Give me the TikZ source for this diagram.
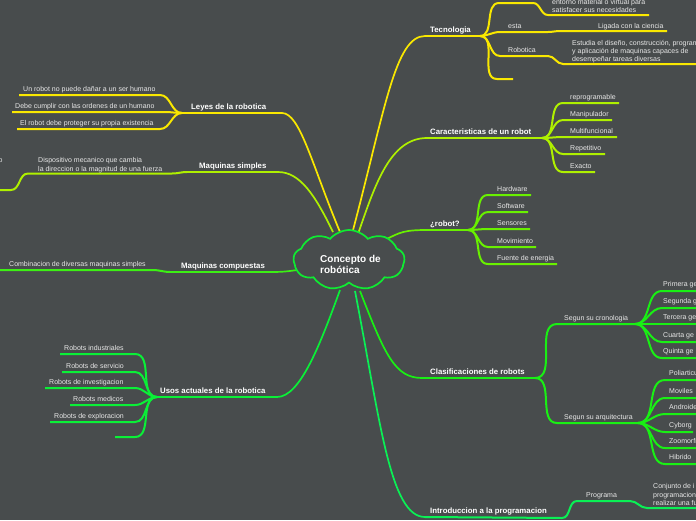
\documentclass[tikz,border=0pt]{standalone}
\usepackage{fontspec}
\setmainfont{Liberation Sans}
\usetikzlibrary{shapes.symbols}
\definecolor{bgc}{RGB}{72,76,77}
\definecolor{cyel}{RGB}{250,232,0}
\definecolor{clime}{RGB}{175,240,0}
\definecolor{cgra}{RGB}{105,240,0}
\definecolor{cgrb}{RGB}{25,240,20}
\definecolor{cgrc}{RGB}{60,240,20}
\definecolor{cgrd}{RGB}{10,240,55}
\definecolor{cgre}{RGB}{10,240,85}
\definecolor{ccloud}{RGB}{15,235,50}
\definecolor{txtc}{RGB}{232,232,232}
\begin{document}
\begin{tikzpicture}[x=1pt,y=-1pt,
  lbl/.style={anchor=base west,inner sep=0pt,text=white,font=\fontsize{7.8}{9}\selectfont\bfseries},
  txt/.style={anchor=base west,inner sep=0pt,text=txtc,font=\fontsize{7}{8}\selectfont},
  mtxt/.style={anchor=north west,inner sep=0pt,align=left,text=txtc,font=\fontsize{7}{8}\selectfont},
  br/.style={line width=2pt},
  rc/.style={line width=1.7pt},
]
\useasboundingbox (0,0) rectangle (696,520);
\fill[bgc] (0,0) rectangle (696,520);
\clip (0,0) rectangle (696,520);

% ---------- Tecnologia ----------
\coordinate (rT) at (352,234);
\coordinate (T0) at (425,36);
\coordinate (T) at (480,36);
\draw[rc,cyel] (rT) .. controls (385,110) and (395,36) .. (T0);
\draw[br,cyel] (T0) -- (T);
\node[lbl] (tec) at (430,32) {Tecnologia};
\coordinate (t1a) at (499,3); \coordinate (t1b) at (533,3);
\coordinate (t1c) at (548,15); \coordinate (t1d) at (649,15);
\draw[br,cyel] (T) to[out=0,in=180] (t1a) -- (t1b) to[out=0,in=180] (t1c) -- (t1d);
\node[mtxt] (t1t) at (552,-1) {entorno material o virtual para\\satisfacer sus necesidades};
\coordinate (t2a) at (500,32); \coordinate (t2b) at (548,32);
\coordinate (t2c) at (560,31); \coordinate (t2d) at (667,31);
\draw[br,cyel] (T) to[out=0,in=180] (t2a) -- (t2b) to[out=0,in=180] (t2c) -- (t2d);
\node[txt] (esta) at (508,28) {esta};
\node[txt] (lig) at (598,28) {Ligada con la ciencia};
\coordinate (t3a) at (500,56); \coordinate (t3b) at (548,56);
\coordinate (t3c) at (563,64); \coordinate (t3d) at (700,64);
\draw[br,cyel] (T) to[out=0,in=180] (t3a) -- (t3b) to[out=0,in=180] (t3c) -- (t3d);
\node[txt] (robo) at (508,52.5) {Robotica};
\node[mtxt] (robt) at (572,40.5) {Estudia el diseño, construcción, program\\y aplicación de maquinas capaces de\\desempeñar tareas diversas};
\coordinate (t4a) at (497,79); \coordinate (t4b) at (513,79);
\draw[br,cyel] (T) to[out=0,in=180] (t4a) -- (t4b);

% ---------- Caracteristicas ----------
\coordinate (rC) at (358,234);
\coordinate (C0) at (427,138);
\coordinate (C) at (542,138);
\draw[rc,clime] (rC) .. controls (375,185) and (390,138) .. (C0);
\draw[br,clime] (C0) -- (C);
\node[lbl] (car) at (430,134) {Caracteristicas de un robot};
\foreach \n/\y/\e/\t in {1/103/619/reprogramable,2/120/612/Manipulador,3/137/617/Multifuncional,4/154/605/Repetitivo,5/172/595/Exacto}{
  \coordinate (ca\n) at (563,\y);
  \coordinate (cb\n) at (\e,\y);
  \draw[br,clime] (C) to[out=0,in=180] (ca\n) -- (cb\n);
  \node[txt] (ct\n) at (570,\y-3.5) {\t};
}

% ---------- robot? ----------
\coordinate (rR) at (385,240);
\coordinate (R0) at (427,230);
\coordinate (R) at (468,230);
\draw[rc,cgra] (rR) .. controls (400,232) and (405,230) .. (R0);
\draw[br,cgra] (R0) -- (R);
\node[lbl] (rob) at (430,226) {¿robot?};
\foreach \n/\y/\e/\t in {1/195/531/Hardware,2/212/528/Software,3/229/530/Sensores,4/247/536/Movimiento,5/264/557/Fuente de energia}{
  \coordinate (ra\n) at (488,\y);
  \coordinate (rb\n) at (\e,\y);
  \draw[br,cgra] (R) to[out=0,in=180] (ra\n) -- (rb\n);
  \node[txt] (rt\n) at (497,\y-3.5) {\t};
}

% ---------- Clasificaciones ----------
\coordinate (rK) at (360,291);
\coordinate (K0) at (422,378);
\coordinate (K) at (535,378);
\draw[rc,cgrb] (rK) .. controls (385,355) and (395,378) .. (K0);
\draw[br,cgrb] (K0) -- (K);
\node[lbl] (cla) at (430,374) {Clasificaciones de robots};
\coordinate (ka) at (557,324); \coordinate (kb) at (635,324);
\coordinate (kc) at (557,423); \coordinate (kd) at (638,423);
\draw[br,cgrb] (K) to[out=0,in=180] (ka) -- (kb);
\draw[br,cgrb] (K) to[out=0,in=180] (kc) -- (kd);
\node[txt] (cro) at (564,320.5) {Segun su cronologia};
\node[txt] (arq) at (564,419.5) {Segun su arquitectura};
\foreach \n/\y/\t in {1/291/Primera ge,2/308/Segunda g,3/324/Tercera ge,4/342/Cuarta ge,5/358/Quinta ge}{
  \coordinate (ga\n) at (662,\y);
  \coordinate (gb\n) at (700,\y);
  \draw[br,cgrb] (kb) to[out=0,in=180] (ga\n) -- (gb\n);
  \node[txt] (gt\n) at (663,\y-4.5) {\t};
}
\foreach \n/\y/\e/\t in {1/380/700/Poliarticu,2/398/700/Moviles,3/414/700/Androide,4/432/693/Cyborg,5/448/700/Zoomorfi,6/464/696/Hibrido}{
  \coordinate (aa\n) at (665,\y);
  \coordinate (ab\n) at (\e,\y);
  \draw[br,cgrb] (kd) to[out=0,in=180] (aa\n) -- (ab\n);
  \node[txt] (at\n) at (669,\y-4.5) {\t};
}

% ---------- Introduccion ----------
\coordinate (rI) at (355,291);
\coordinate (I0) at (425,517);
\coordinate (I) at (562,518);
\draw[rc,cgre] (rI) .. controls (380,420) and (390,517) .. (I0);
\draw[br,cgre] (I0) -- (I);
\node[lbl] (intro) at (430,513) {Introduccion a la programacion};
\coordinate (ia) at (577,501); \coordinate (ib) at (630,501);
\coordinate (ic) at (647,508); \coordinate (id) at (700,508);
\draw[br,cgre] (I) to[out=0,in=180] (ia) -- (ib) to[out=0,in=180] (ic) -- (id);
\node[txt] (prog) at (586,497.5) {Programa};
\node[mtxt,font=\fontsize{7}{8.5}\selectfont] (progt) at (653,483.5) {Conjunto de i\\programacion\\realizar una fu};

% ---------- Leyes ----------
\coordinate (rL) at (340,232);
\coordinate (L0) at (282,113);
\coordinate (L) at (182,113);
\draw[rc,cyel] (rL) .. controls (312,165) and (300,113) .. (L0);
\draw[br,cyel] (L0) -- (L);
\node[lbl] (ley) at (191,109) {Leyes de la robotica};
\foreach \n/\y/\e/\s/\x/\t in {1/95/160/19/23/Un robot no puede dañar a un ser humano,2/112/165/12/15/Debe cumplir con las ordenes de un humano,3/129/160/17/20/El robot debe proteger su propia existencia}{
  \coordinate (la\n) at (\e,\y);
  \coordinate (lb\n) at (\s,\y);
  \draw[br,cyel] (L) to[out=180,in=0] (la\n) -- (lb\n);
  \node[txt] (lt\n) at (\x,\y-3.5) {\t};
}

% ---------- Maquinas simples ----------
\coordinate (rS) at (333,232);
\coordinate (S0) at (278,172);
\coordinate (S) at (187,172);
\draw[rc,clime] (rS) .. controls (315,195) and (300,172) .. (S0);
\draw[br,clime] (S0) -- (S);
\node[lbl] (msim) at (199,168) {Maquinas simples};
\coordinate (sa) at (172,173.5); \coordinate (sb) at (28,173.5);
\coordinate (sc) at (11,190); \coordinate (sd) at (-5,190);
\draw[br,clime] (S) to[out=180,in=0] (sa) -- (sb) to[out=180,in=0] (sc) -- (sd);
\node[mtxt,font=\fontsize{7}{9}\selectfont] (msimt) at (38,157.5) {Dispositivo mecanico que cambia\\la direccion o la magnitud de una fuerza};
\node[txt] (frag) at (-1.5,162) {o};

% ---------- Maquinas compuestas ----------
\coordinate (rM) at (304,269);
\coordinate (M0) at (272,272);
\coordinate (M) at (170,272);
\draw[rc,cgrc] (rM) .. controls (290,271) and (285,272) .. (M0);
\draw[br,cgrc] (M0) -- (M);
\node[lbl] (mcom) at (181,268) {Maquinas compuestas};
\coordinate (ma) at (153,270); \coordinate (mb) at (-5,270);
\draw[br,cgrc] (M) to[out=180,in=0] (ma) -- (mb);
\node[txt] (mcomt) at (9,266.5) {Combinacion de diversas maquinas simples};

% ---------- Usos actuales ----------
\coordinate (rU) at (340,290);
\coordinate (U0) at (277,397);
\coordinate (U) at (157,397);
\draw[rc,cgrd] (rU) .. controls (320,345) and (300,397) .. (U0);
\draw[br,cgrd] (U0) -- (U);
\node[lbl] (usos) at (160,393) {Usos actuales de la robotica};
\foreach \n/\y/\s/\x/\t in {1/354/60/64/Robots industriales,2/372/62/66/Robots de servicio,3/388/45/49/Robots de investigacion,4/405/70/73/Robots medicos,5/422/50/54/Robots de exploracion}{
  \coordinate (ua\n) at (135,\y);
  \coordinate (ub\n) at (\s,\y);
  \draw[br,cgrd] (U) to[out=180,in=0] (ua\n) -- (ub\n);
  \node[txt] (ut\n) at (\x,\y-3.5) {\t};
}
\coordinate (ua6) at (135,437); \coordinate (ub6) at (115,437);
\draw[br,cgrd] (U) to[out=180,in=0] (ua6) -- (ub6);

% ---------- central cloud ----------
\node[cloud,cloud puffs=9,cloud puff arc=100,aspect=1.8,draw=ccloud,fill=bgc,line width=1.7pt,minimum width=111pt,minimum height=60pt,inner sep=0pt] (root) at (349,260) {};
\node[anchor=west,align=left,inner sep=0pt,text=white,font=\fontsize{10}{11.5}\selectfont\bfseries] (roottxt) at (320,264.5) {Concepto de\\robótica};
\end{tikzpicture}
\end{document}
